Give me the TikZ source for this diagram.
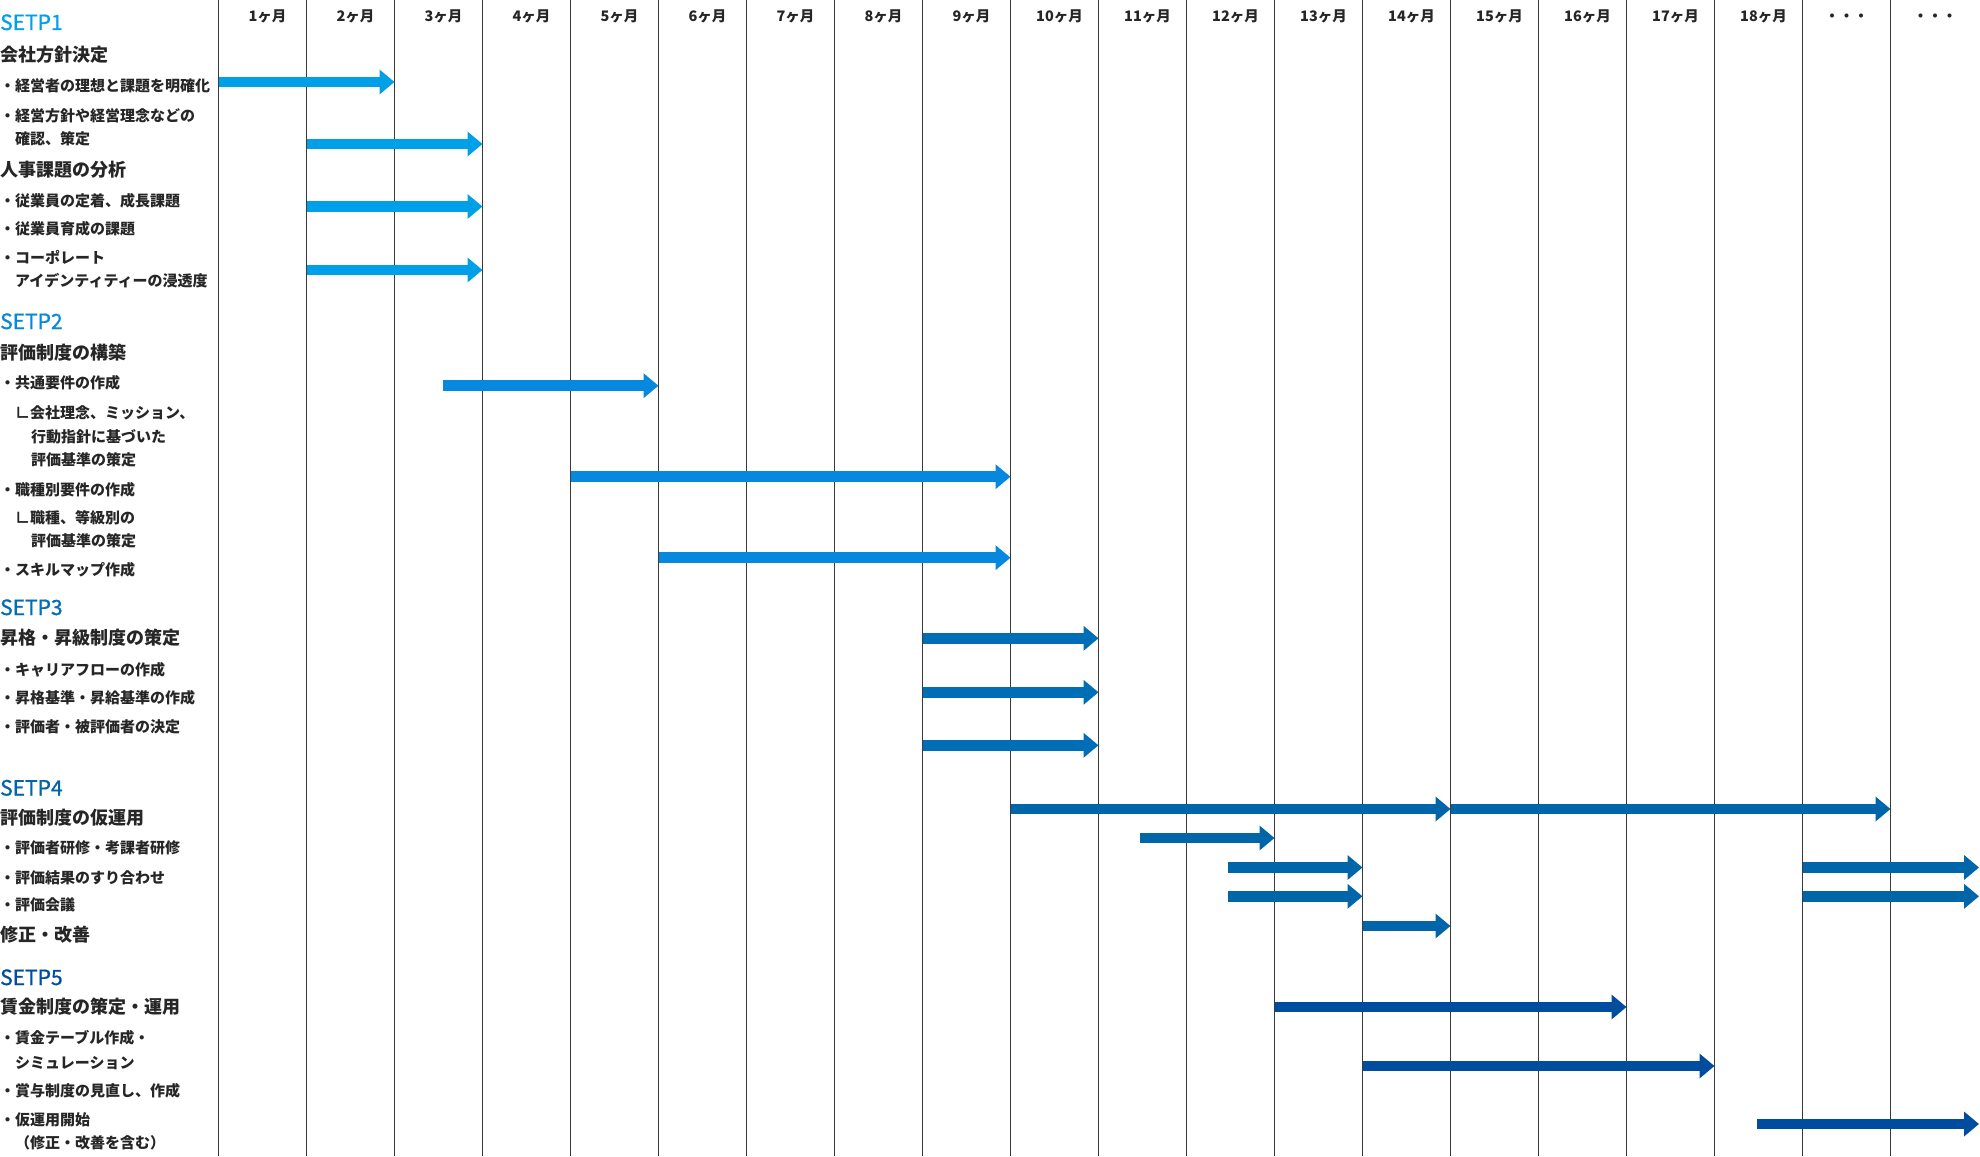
\documentclass[tikz,border=0pt]{standalone}
\usepackage{fontspec}
\usetikzlibrary{arrows.meta}
\newfontfamily\jp{Noto Sans CJK JP}
\newfontfamily\jpm{Noto Sans CJK JP}[FakeBold=0.9]
\definecolor{cA}{HTML}{00A0E9}
\definecolor{cB}{HTML}{0788DF}
\definecolor{cC}{HTML}{006DB7}
\definecolor{cD}{HTML}{0065A9}
\definecolor{cE}{HTML}{004C9E}
\definecolor{gridc}{HTML}{3A3A3A}
\tikzset{
  stepl/.style={anchor=west, inner sep=0pt, font=\jpm\fontsize{21}{24}\selectfont, text height=18.5pt, text depth=2.5pt},
  headl/.style={anchor=west, inner sep=0pt, font=\jp\bfseries\fontsize{18}{20}\selectfont, text=black!85, text height=15.84pt, text depth=2.16pt},
  iteml/.style={anchor=west, inner sep=0pt, font=\jp\bfseries\fontsize{15}{17}\selectfont, text=black!85, text height=13.2pt, text depth=1.8pt},
  monthl/.style={anchor=center, inner sep=0pt, font=\jp\bfseries\fontsize{14.5}{16}\selectfont, text=black!85, text height=12.7pt, text depth=1.8pt},
  gridl/.style={draw=gridc, line width=1.2pt},
  garrow/.style={line width=10.5pt, -{Triangle[width=24pt,length=15pt]}},
}
\newcommand\garr[4]{\draw[garrow,#1] (#2,#4) -- (#3,#4);}
\begin{document}
\begin{tikzpicture}[x=1pt,y=-1pt]
\useasboundingbox (0,0) rectangle (1980,1156);
\fill[white] (0,0) rectangle (1980,1156);
% grid lines
\foreach \k in {0,...,19}{
  \draw[gridl] ({218.5+88*\k},0) -- ({218.5+88*\k},1156);
}
% month headers
\foreach \i in {1,...,18}{
  \node[monthl] (m\i) at ({218.5+88*(\i-1)+44+5},16.5) {\i{}ヶ月};
}
\node[monthl] (m19) at (1846.5,16.5) {・・・};
\node[monthl] (m20) at (1935,16.5) {・・・};

% STEP1
\node[stepl, text=cA] (s1) at (0,22) {SETP1};
\node[headl] (h11) at (0,55) {会社方針決定};
\node[iteml] (i11) at (0,86) {・経営者の理想と課題を明確化};
\node[iteml] (i12) at (0,116) {・経営方針や経営理念などの};
\node[iteml] (i13) at (15,139) {確認、策定};
\node[headl] (h12) at (0,170) {人事課題の分析};
\node[iteml] (i14) at (0,201) {・従業員の定着、成長課題};
\node[iteml] (i15) at (0,229) {・従業員育成の課題};
\node[iteml] (i16) at (0,258) {・コーポレート};
\node[iteml] (i17) at (15,281) {アイデンティティーの浸透度};

% STEP2
\node[stepl, text=cB] (s2) at (0,321) {SETP2};
\node[headl] (h21) at (0,353) {評価制度の構築};
\node[iteml] (i21) at (0,383) {・共通要件の作成};
\node[iteml] (i22) at (15,413) {∟会社理念、ミッション、};
\node[iteml] (i23) at (31,437) {行動指針に基づいた};
\node[iteml] (i24) at (31,460) {評価基準の策定};
\node[iteml] (i25) at (0,490) {・職種別要件の作成};
\node[iteml] (i26) at (15,517.5) {∟職種、等級別の};
\node[iteml] (i27) at (31,541) {評価基準の策定};
\node[iteml] (i28) at (0,570) {・スキルマップ作成};

% STEP3
\node[stepl, text=cC] (s3) at (0,607) {SETP3};
\node[headl] (h31) at (0,638) {昇格・昇級制度の策定};
\node[iteml] (i31) at (0,670) {・キャリアフローの作成};
\node[iteml] (i32) at (0,698) {・昇格基準・昇給基準の作成};
\node[iteml] (i33) at (0,727) {・評価者・被評価者の決定};

% STEP4
\node[stepl, text=cD] (s4) at (0,787.5) {SETP4};
\node[headl] (h41) at (0,817.5) {評価制度の仮運用};
\node[iteml] (i41) at (0,848) {・評価者研修・考課者研修};
\node[iteml] (i42) at (0,877.5) {・評価結果のすり合わせ};
\node[iteml] (i43) at (0,905) {・評価会議};
\node[headl] (h42) at (0,935) {修正・改善};

% STEP5
\node[stepl, text=cE] (s5) at (0,977) {SETP5};
\node[headl] (h51) at (0,1007) {賃金制度の策定・運用};
\node[iteml] (i51) at (0,1038) {・賃金テーブル作成・};
\node[iteml] (i52) at (15,1063) {シミュレーション};
\node[iteml] (i53) at (0,1091) {・賞与制度の見直し、作成};
\node[iteml] (i54) at (0,1120) {・仮運用開始};
\node[iteml] (i55) at (15,1143) {（修正・改善を含む）};

% arrows STEP1
\garr{cA}{218.5}{394.5}{82}
\garr{cA}{306.5}{482.5}{144}
\garr{cA}{306.5}{482.5}{206.5}
\garr{cA}{306.5}{482.5}{270}
% arrows STEP2
\garr{cB}{443}{658.5}{385.7}
\garr{cB}{570.5}{1010.5}{476.7}
\garr{cB}{658.5}{1010.5}{557.7}
% arrows STEP3
\garr{cC}{922.5}{1098.5}{638.3}
\garr{cC}{922.5}{1098.5}{692.3}
\garr{cC}{922.5}{1098.5}{745.3}
% arrows STEP4
\garr{cD}{1010.5}{1450.5}{809}
\garr{cD}{1450.5}{1890.5}{809}
\garr{cD}{1140}{1274.5}{838}
\garr{cD}{1228}{1362.5}{867.5}
\garr{cD}{1802.5}{1979}{867.5}
\garr{cD}{1228}{1362.5}{896.3}
\garr{cD}{1802.5}{1979}{896.3}
\garr{cD}{1362.5}{1450.5}{926}
% arrows STEP5
\garr{cE}{1274.5}{1626.5}{1007}
\garr{cE}{1362.5}{1714.5}{1066}
\garr{cE}{1757}{1979}{1124}
\end{tikzpicture}
\end{document}
